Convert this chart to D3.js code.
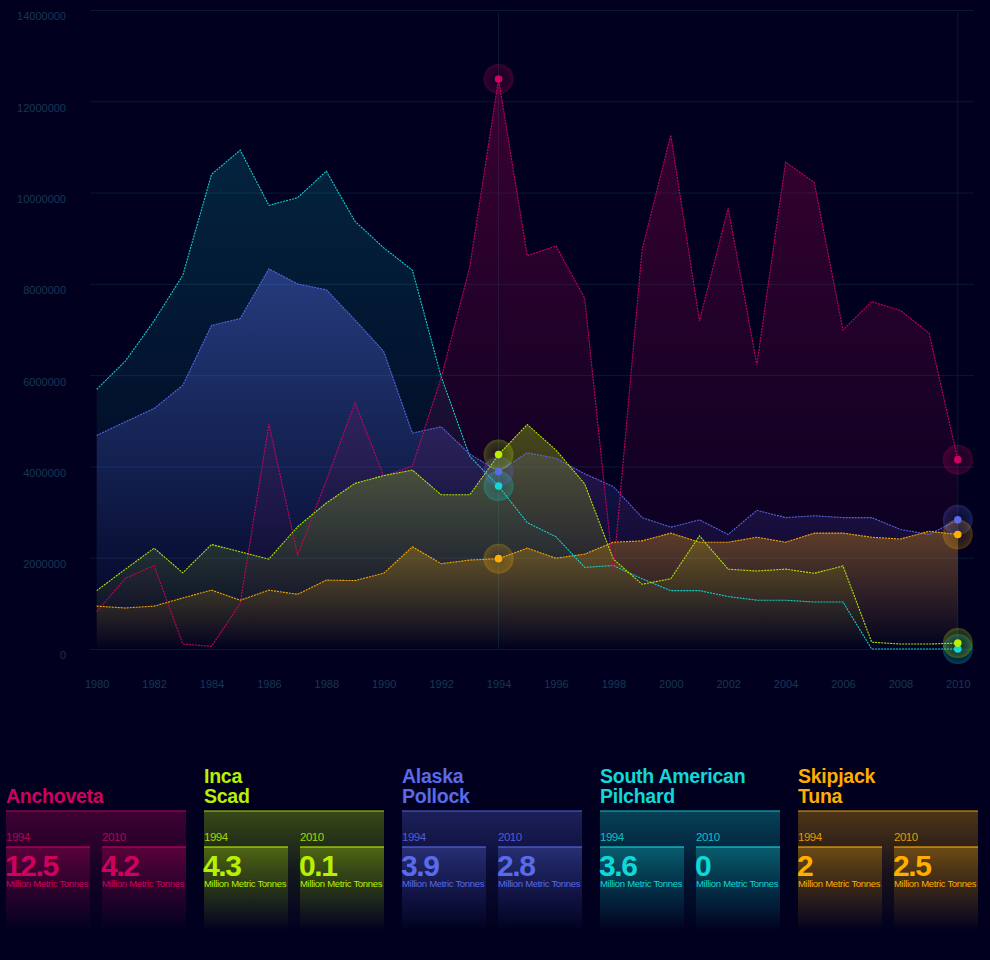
<!DOCTYPE html>
<html><head><meta charset="utf-8">
<script src="https://cdn.jsdelivr.net/npm/d3@7"></script>
<style>
html,body{margin:0;padding:0;background:#01011f;}
svg{display:block;font-family:"Liberation Sans",Arial,Helvetica,sans-serif;}
</style></head>
<body><svg id="c" width="990" height="960"></svg>
<script>
const years = d3.range(1980, 2011);
const seriesNames = ["Anchoveta", "Inca Scad", "Alaska Pollock", "South American Pilchard", "Skipjack Tuna"];
const titleLines = [["Anchoveta"], ["Inca", "Scad"], ["Alaska", "Pollock"], ["South American", "Pilchard"], ["Skipjack", "Tuna"]];
const seriesColors = ["#d0005f", "#b8f000", "#5a6ae8", "#10d8d8", "#ffae00"];
const anchoveta = [830000,1560000,1840000,120000,70000,1010000,4940000,2070000,3700000,5410000,3800000,4020000,5950000,8390000,12500000,8630000,8840000,7700000,1700000,8760000,11270000,7200000,9670000,6240000,10680000,10230000,7000000,7620000,7430000,6930000,4160000];
const incaScad = [1290000,1760000,2220000,1680000,2300000,2140000,1980000,2690000,3210000,3640000,3810000,3930000,3390000,3390000,4270000,4930000,4370000,3630000,1980000,1430000,1550000,2490000,1760000,1720000,1760000,1670000,1830000,160000,120000,120000,140000];
const alaskaPollock = [4690000,4990000,5280000,5790000,7100000,7250000,8340000,8010000,7880000,7220000,6530000,4740000,4880000,4280000,3900000,4310000,4190000,3850000,3570000,2890000,2680000,2840000,2520000,3050000,2890000,2930000,2890000,2890000,2630000,2520000,2840000];
const saPilchard = [5700000,6320000,7200000,8200000,10410000,10940000,9730000,9900000,10480000,9380000,8800000,8310000,5980000,4230000,3580000,2780000,2470000,1800000,1840000,1550000,1290000,1290000,1160000,1080000,1080000,1040000,1040000,10000,10000,10000,10000];
const skipjackTuna = [950000,910000,950000,1130000,1300000,1080000,1300000,1210000,1520000,1510000,1670000,2250000,1880000,1960000,1990000,2220000,2000000,2090000,2350000,2380000,2550000,2350000,2350000,2460000,2350000,2550000,2550000,2460000,2420000,2590000,2520000];
const seriesValues = [anchoveta, incaScad, alaskaPollock, saPilchard, skipjackTuna];
const yTicks = d3.range(0, 14000001, 2000000);
const xTicks = d3.range(1980, 2011, 2);
const highlightYears = [1994, 2010];
const unitLabel = "Million Metric Tonnes";

const svg = d3.select("#c");
const x = d3.scaleLinear().domain([1980, 2010]).range([96.7, 957.8]);
const y = d3.scaleLinear().domain([0, 14000000]).range([649.5, 10.5]);
const defs = svg.append("defs");

// grid
svg.append("g").selectAll("line").data(yTicks).join("line")
  .attr("x1", 90).attr("x2", 974)
  .attr("y1", d => y(d)).attr("y2", d => y(d))
  .attr("stroke", "#0a1838").attr("stroke-width", 1);
svg.append("g").selectAll("line").data(highlightYears).join("line")
  .attr("x1", d => x(d)).attr("x2", d => x(d))
  .attr("y1", 13).attr("y2", y(0))
  .attr("stroke", "#0a1838").attr("stroke-width", 1);

// axes
const yAxis = svg.append("g").attr("transform", "translate(66,0)")
  .call(d3.axisLeft(y).tickValues(yTicks).tickSize(0).tickPadding(0).tickFormat(d3.format("d")));
yAxis.select(".domain").remove();
yAxis.selectAll("text").attr("fill", "#173654").attr("font-size", 11)
  .attr("font-family", "Liberation Sans, Arial, sans-serif").attr("dy", "0.85em");
const xAxis = svg.append("g").attr("transform", "translate(0,680)")
  .call(d3.axisBottom(x).tickValues(xTicks).tickSize(0).tickPadding(0).tickFormat(d3.format("d")));
xAxis.select(".domain").remove();
xAxis.selectAll("text").attr("fill", "#173654").attr("font-size", 11)
  .attr("font-family", "Liberation Sans, Arial, sans-serif");

// gradients
const areaOpacity = [0.28, 0.3, 0.4, 0.16, 0.3];
seriesNames.forEach((n, i) => {
  const g = defs.append("linearGradient").attr("id", "ag" + i)
    .attr("x1", 0).attr("y1", 0).attr("x2", 0).attr("y2", 1);
  g.append("stop").attr("offset", 0).attr("stop-color", seriesColors[i]).attr("stop-opacity", areaOpacity[i]);
  g.append("stop").attr("offset", 1).attr("stop-color", seriesColors[i]).attr("stop-opacity", 0.0);
  const p = defs.append("linearGradient").attr("id", "pg" + i)
    .attr("x1", 0).attr("y1", 0).attr("x2", 0).attr("y2", 1);
  p.append("stop").attr("offset", 0).attr("stop-color", seriesColors[i]).attr("stop-opacity", 0.3);
  p.append("stop").attr("offset", 0.5).attr("stop-color", seriesColors[i]).attr("stop-opacity", 0.1);
  p.append("stop").attr("offset", 1).attr("stop-color", seriesColors[i]).attr("stop-opacity", 0);
  const s = defs.append("linearGradient").attr("id", "sg" + i)
    .attr("x1", 0).attr("y1", 0).attr("x2", 0).attr("y2", 1);
  s.append("stop").attr("offset", 0).attr("stop-color", seriesColors[i]).attr("stop-opacity", 0.3);
  s.append("stop").attr("offset", 1).attr("stop-color", seriesColors[i]).attr("stop-opacity", 0);
  const r = defs.append("radialGradient").attr("id", "hg" + i);
  r.append("stop").attr("offset", 0).attr("stop-color", seriesColors[i]).attr("stop-opacity", 0.08);
  r.append("stop").attr("offset", 0.8).attr("stop-color", seriesColors[i]).attr("stop-opacity", 0.2);
  r.append("stop").attr("offset", 1).attr("stop-color", seriesColors[i]).attr("stop-opacity", 0.3);
});

const drawOrder = [3, 2, 0, 1, 4];
const area = d3.area().x((d, j) => x(years[j])).y0(y(0)).y1(d => y(d));
const line = d3.line().x((d, j) => x(years[j])).y(d => y(d));
const gA = svg.append("g");
drawOrder.forEach(i => {
  gA.append("path").attr("d", area(seriesValues[i])).attr("fill", `url(#ag${i})`);
});
const gL = svg.append("g");
drawOrder.forEach(i => {
  gL.append("path").attr("d", line(seriesValues[i])).attr("fill", "none")
    .attr("stroke", seriesColors[i]).attr("stroke-width", 1.1)
    .attr("stroke-dasharray", "2,1").attr("opacity", 0.95);
});
// markers
const gM = svg.append("g");
drawOrder.forEach(i => {
  highlightYears.forEach(yr => {
    const v = seriesValues[i][years.indexOf(yr)];
    gM.append("circle").attr("cx", x(yr)).attr("cy", y(v)).attr("r", 15)
      .attr("fill", `url(#hg${i})`);
  });
});
drawOrder.forEach(i => {
  highlightYears.forEach(yr => {
    const v = seriesValues[i][years.indexOf(yr)];
    gM.append("circle").attr("cx", x(yr)).attr("cy", y(v)).attr("r", 3.8)
      .attr("fill", seriesColors[i]);
  });
});

// legend panels
const fmt = v => String(+(v / 1e6).toFixed(1));
seriesNames.forEach((n, i) => {
  const x0 = 6 + i * 198;
  const c = seriesColors[i];
  const g = svg.append("g").attr("transform", `translate(${x0},0)`);
  const lines = titleLines[i];
  lines.forEach((t, k) => {
    g.append("text").attr("x", 0).attr("y", 803 - (lines.length - 1 - k) * 20)
      .attr("fill", c).attr("font-size", 19.5).attr("font-weight", "bold")
      .attr("letter-spacing", -0.25).text(t);
  });
  g.append("rect").attr("x", 0).attr("y", 811).attr("width", 180).attr("height", 118)
    .attr("fill", `url(#pg${i})`);
  g.append("rect").attr("x", 0).attr("y", 810).attr("width", 180).attr("height", 2)
    .attr("fill", c).attr("opacity", 0.45);
  highlightYears.forEach((yr, k) => {
    const sx = k * 96;
    const v = seriesValues[i][years.indexOf(yr)];
    g.append("text").attr("x", sx).attr("y", 841).attr("fill", c).attr("font-size", 11.5)
      .attr("letter-spacing", -0.5).attr("opacity", 0.85).text(yr);
    g.append("rect").attr("x", sx).attr("y", 847).attr("width", 84).attr("height", 84)
      .attr("fill", `url(#sg${i})`);
    g.append("rect").attr("x", sx).attr("y", 846).attr("width", 84).attr("height", 2)
      .attr("fill", c).attr("opacity", 0.55);
    g.append("text").attr("x", sx - 1).attr("y", 876).attr("fill", c).attr("font-size", 30)
      .attr("font-weight", "bold").attr("letter-spacing", -1.4).text(fmt(v));
    g.append("text").attr("x", sx).attr("y", 886.5).attr("fill", c).attr("font-size", 9.5)
      .attr("letter-spacing", -0.3).text(unitLabel);
  });
});
</script></body></html>
